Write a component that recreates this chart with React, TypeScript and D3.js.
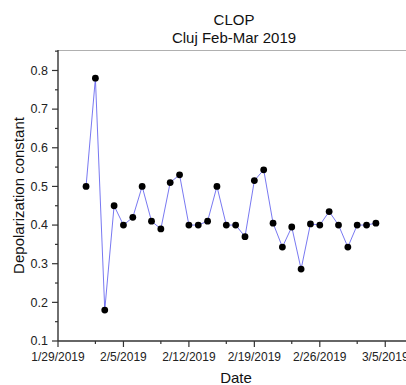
import React, { useEffect, useRef } from 'react';
import * as d3 from 'd3';

// daily measurements, Feb 1 - Mar 4 2019
const startDay = '2019-02-01';
const depolValues = [
  0.5, 0.78, 0.18, 0.45, 0.4, 0.42, 0.5, 0.41, 0.39, 0.51, 0.53, 0.4, 0.4, 0.41, 0.5, 0.4,
  0.4, 0.37, 0.515, 0.543, 0.405, 0.343, 0.395, 0.286, 0.403, 0.4, 0.435, 0.4, 0.343, 0.4,
  0.4, 0.405,
];
const yTicks = [0.1, 0.2, 0.3, 0.4, 0.5, 0.6, 0.7, 0.8];
const xTickDays = ['2019-01-29', '2019-02-05', '2019-02-12', '2019-02-19', '2019-02-26', '2019-03-05'];
const titleLines = ['CLOP', 'Cluj Feb-Mar 2019'];

const W = 406;
const H = 385;
const FONT = 'Arial, "Liberation Sans", sans-serif';

const parseDay = d3.utcParse('%Y-%m-%d');

const App = () => {
  const ref = useRef<SVGSVGElement | null>(null);

  useEffect(() => {
    const svg = d3.select(ref.current);
    svg.selectAll('*').remove();

    const left = 58;
    const top = 50;
    const bottom = 341;

    const t0 = parseDay('2019-01-29') as Date;
    const t1 = parseDay('2019-03-08') as Date;
    const x = d3.scaleUtc().domain([t0, t1]).range([left, left + 38 * 9.35]);
    const y = d3.scaleLinear().domain([0.1, 0.853]).range([bottom, top]);

    const start = parseDay(startDay) as Date;
    const data = depolValues.map((v, i) => ({ date: d3.utcDay.offset(start, i), value: v }));

    // top frame
    svg.append('line')
      .attr('x1', left).attr('x2', W)
      .attr('y1', top + 0.5).attr('y2', top + 0.5)
      .attr('stroke', '#b0b0b0').attr('stroke-width', 1);

    // x axis
    const xMajor = xTickDays.map(d => parseDay(d) as Date);
    const xMinor = xMajor.map(d => d3.utcDay.offset(d, 4)).concat([d3.utcDay.offset(xMajor[0], -3)])
      .filter(d => x(d) >= left && x(d) <= W);
    const fmt = d3.utcFormat('%-m/%-d/%Y');

    const gx = svg.append('g');
    gx.append('line')
      .attr('x1', left).attr('x2', W)
      .attr('y1', bottom).attr('y2', bottom)
      .attr('stroke', '#333').attr('stroke-width', 1.4);
    gx.selectAll('.xmaj').data(xMajor).enter().append('line')
      .attr('x1', d => x(d)).attr('x2', d => x(d))
      .attr('y1', bottom).attr('y2', bottom + 6)
      .attr('stroke', '#333').attr('stroke-width', 1.2);
    gx.selectAll('.xmin').data(xMinor).enter().append('line')
      .attr('x1', d => x(d)).attr('x2', d => x(d))
      .attr('y1', bottom).attr('y2', bottom + 3)
      .attr('stroke', '#333').attr('stroke-width', 1.2);
    gx.selectAll('.xlab').data(xMajor).enter().append('text')
      .attr('x', d => x(d)).attr('y', bottom + 20)
      .attr('text-anchor', 'middle')
      .attr('font-family', FONT).attr('font-size', 12).attr('fill', '#222')
      .text(d => fmt(d));

    // y axis
    const yMinor = yTicks.map(v => v + 0.05);
    const gy = svg.append('g');
    gy.append('line')
      .attr('x1', left).attr('x2', left)
      .attr('y1', top).attr('y2', bottom)
      .attr('stroke', '#333').attr('stroke-width', 1.4);
    gy.selectAll('.ymaj').data(yTicks).enter().append('line')
      .attr('x1', left - 6).attr('x2', left)
      .attr('y1', d => y(d)).attr('y2', d => y(d))
      .attr('stroke', '#333').attr('stroke-width', 1.2);
    gy.selectAll('.ymin').data(yMinor).enter().append('line')
      .attr('x1', left - 3).attr('x2', left)
      .attr('y1', d => y(d)).attr('y2', d => y(d))
      .attr('stroke', '#333').attr('stroke-width', 1.2);
    gy.selectAll('.ylab').data(yTicks).enter().append('text')
      .attr('x', left - 10).attr('y', d => y(d) + 4.3)
      .attr('text-anchor', 'end')
      .attr('font-family', FONT).attr('font-size', 12.5).attr('fill', '#222')
      .text(d => d3.format('.1f')(d));

    // line + markers
    const line = d3.line<{ date: Date; value: number }>()
      .x(d => x(d.date))
      .y(d => y(d.value));
    svg.append('path')
      .datum(data)
      .attr('d', line)
      .attr('fill', 'none')
      .attr('stroke', '#5555ee')
      .attr('stroke-width', 0.8);
    svg.selectAll('.dot').data(data).enter().append('circle')
      .attr('cx', d => x(d.date))
      .attr('cy', d => y(d.value))
      .attr('r', 3.4)
      .attr('fill', '#000');

    // titles
    svg.selectAll('.title').data(titleLines).enter().append('text')
      .attr('x', 234).attr('y', (d, i) => 25 + i * 17.5)
      .attr('text-anchor', 'middle')
      .attr('font-family', FONT).attr('font-size', 15).attr('fill', '#111')
      .text(d => d);

    svg.append('text')
      .attr('x', 236).attr('y', 383)
      .attr('text-anchor', 'middle')
      .attr('font-family', FONT).attr('font-size', 15).attr('fill', '#111')
      .text('Date');

    svg.append('text')
      .attr('transform', `translate(23.5,${(top + bottom) / 2}) rotate(-90)`)
      .attr('text-anchor', 'middle')
      .attr('font-family', FONT).attr('font-size', 15).attr('fill', '#111')
      .text('Depolarization constant');
  }, []);

  return (
    <svg
      ref={ref}
      width={W}
      height={H}
      style={{ position: 'absolute', left: 0, top: 0, background: '#fff' }}
    />
  );
};

export default App;
